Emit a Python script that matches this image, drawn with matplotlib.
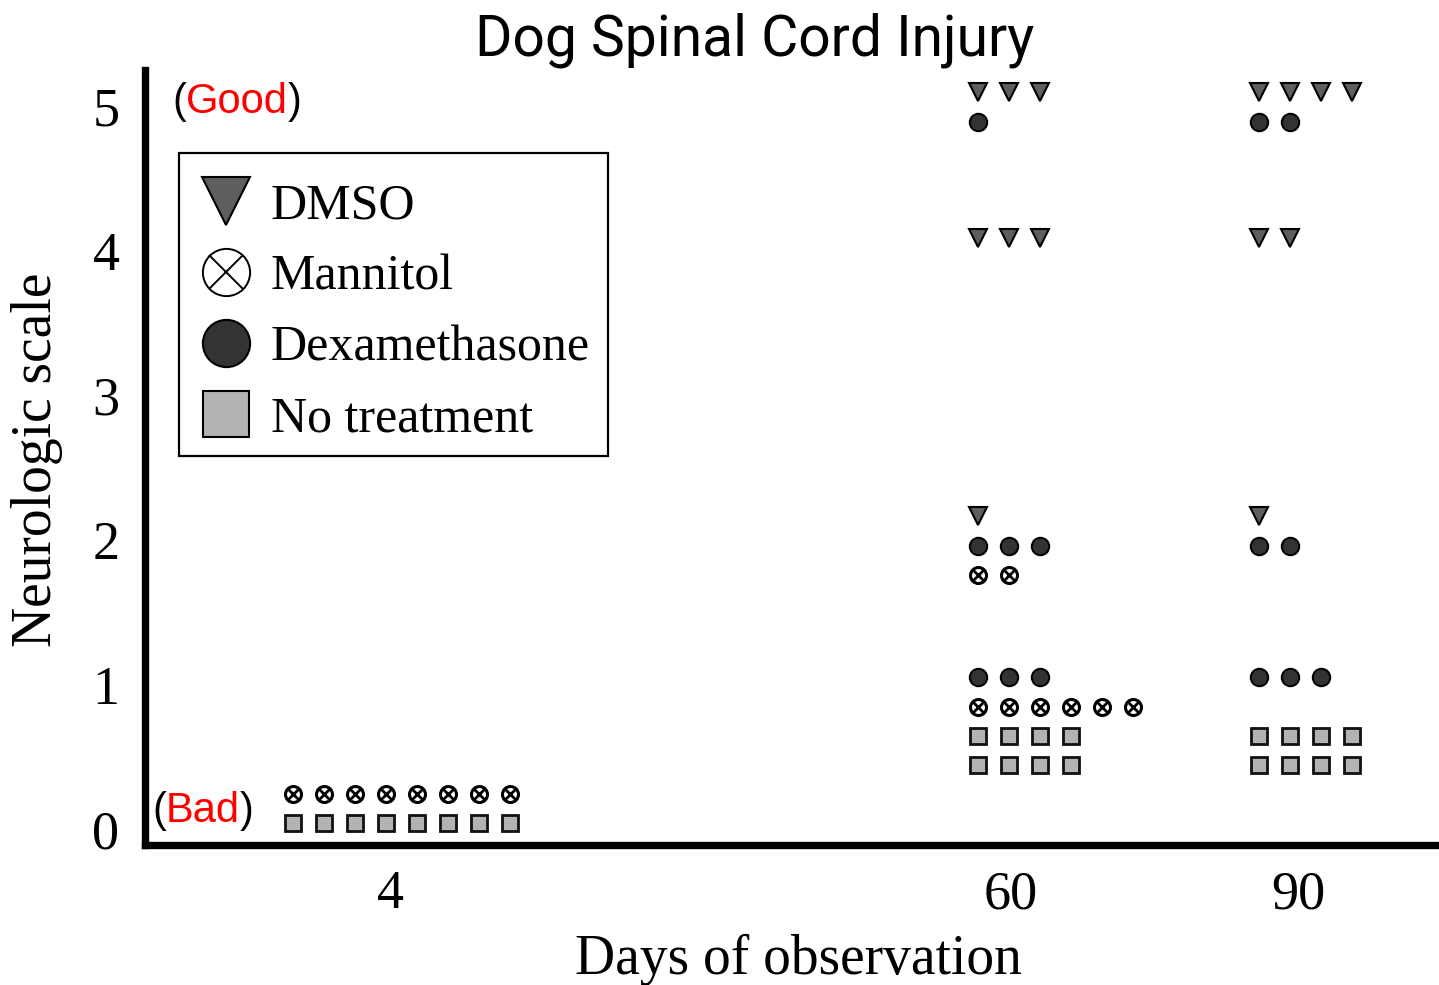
import matplotlib
matplotlib.use("Agg")
import matplotlib.pyplot as plt
from matplotlib.lines import Line2D
from matplotlib.patches import Rectangle

# ---------------- data ----------------
days = ["4", "60", "90"]
treatments = ["DMSO", "Mannitol", "Dexamethasone", "No treatment"]
y_ticks = [0, 1, 2, 3, 4, 5]

# one entry per row of symbols (each symbol = one dog)
row_day = ["4", "4",
           "60", "60", "60", "60", "60", "60", "60", "60", "60", "60",
           "90", "90", "90", "90", "90", "90", "90", "90"]
row_treatment = ["Mannitol", "No treatment",
                 "DMSO", "Dexamethasone", "DMSO", "DMSO", "Dexamethasone",
                 "Mannitol", "Dexamethasone", "Mannitol", "No treatment", "No treatment",
                 "DMSO", "Dexamethasone", "DMSO", "DMSO", "Dexamethasone",
                 "Dexamethasone", "No treatment", "No treatment"]
row_y = [0.24, 0.04,
         5.10, 4.89, 4.085, 2.165, 1.96, 1.757, 1.053, 0.846, 0.645, 0.443,
         5.10, 4.89, 4.085, 2.165, 1.96, 1.053, 0.645, 0.443]
row_count = [8, 8,
             3, 1, 3, 1, 3, 2, 3, 6, 4, 4,
             4, 2, 2, 1, 2, 3, 4, 4]

# ---------------- layout (x in "symbol slot" units) ----------------
group_start = {"4": 4.80, "60": 26.90, "90": 35.95}
tick_pos = {"4": 7.92, "60": 27.95, "90": 37.21}
slot = 1.0

styles = {
    "DMSO": dict(marker="v", ms=12.5, mfc="#5e5e5e", mec="black", mew=1.5),
    "Dexamethasone": dict(marker="o", ms=12.5, mfc="#333333", mec="black", mew=1.5),
    "No treatment": dict(marker="s", ms=11, mfc="#b3b3b3", mec="#111111", mew=2.0),
}

SERIF = "Liberation Serif"
W, H = 1439, 985

fig = plt.figure(figsize=(14.39, 9.85), dpi=100)
ax_l, ax_b, ax_w, ax_h = 144.5, 845, 1294.5, 775   # pixels (left, bottom-from-top)
ax = fig.add_axes([ax_l / W, (H - ax_b) / H, ax_w / W, ax_h / H])
ax.set_xlim(0, 41.76)
ax.set_ylim(-0.1107, 5.249)

def axfrac(px, py):
    return ((px - ax_l) / ax_w, (ax_b - py) / ax_h)

pts = {t: ([], []) for t in treatments}
for d, t, y, n in zip(row_day, row_treatment, row_y, row_count):
    for i in range(n):
        pts[t][0].append(group_start[d] + i * slot)
        pts[t][1].append(y)

for t in ["DMSO", "Dexamethasone", "No treatment"]:
    ax.plot(pts[t][0], pts[t][1], ls="none", clip_on=False, **styles[t])
# Mannitol: circle with a cross
ax.plot(pts["Mannitol"][0], pts["Mannitol"][1], ls="none", marker="o", ms=11.5,
        mfc="white", mec="black", mew=2.2, clip_on=False)
ax.plot(pts["Mannitol"][0], pts["Mannitol"][1], ls="none", marker="x", ms=7.5,
        mec="black", mew=2.0, clip_on=False)

# spines / ticks
for s in ["top", "right"]:
    ax.spines[s].set_visible(False)
for s in ["left", "bottom"]:
    ax.spines[s].set_linewidth(5.3)
    ax.spines[s].set_color("black")
ax.set_yticks(y_ticks)
ax.set_yticklabels([str(v) for v in y_ticks], fontfamily=SERIF, fontsize=39)
ax.set_xticks([tick_pos[d] for d in days])
ax.set_xticklabels(days, fontfamily=SERIF, fontsize=39)
ax.tick_params(axis="both", length=0)
ax.tick_params(axis="y", pad=18)
ax.tick_params(axis="x", pad=18)

# axis labels & title
fig.text(798.5 / W, (H - 974) / H, "Days of observation", ha="center",
         va="baseline", fontfamily=SERIF, fontsize=40)
fig.text(51 / W, (H - 460) / H, "Neurologic scale", rotation=90,
         rotation_mode="anchor", ha="center", va="baseline",
         fontfamily=SERIF, fontsize=40)
fig.text(755 / W, (H - 56) / H, "Dog Spinal Cord Injury", ha="center",
         va="baseline", fontfamily="Roboto", fontsize=41)

# (Good) / (Bad) annotations with coloured words
def chain(x_px, base_px, parts):
    prev = ax.annotate(parts[0][0], xy=(x_px / W, (H - base_px) / H),
                       xycoords="figure fraction", color=parts[0][1],
                       fontfamily="Liberation Sans", fontsize=30,
                       ha="left", va="baseline", annotation_clip=False)
    for s, c in parts[1:]:
        prev = ax.annotate(s, xy=(1, 0), xycoords=prev, color=c,
                           fontfamily="Liberation Sans", fontsize=30,
                           ha="left", va="bottom", annotation_clip=False)

chain(172, 113, [("(", "black"), ("Good", "#ff0000"), (")", "black")])
chain(152, 822, [("(", "black"), ("Bad", "#ff0000"), (")", "black")])

# legend (entries) + separate frame
h_dmso = Line2D([], [], ls="none", marker="v", ms=34, mfc="#5e5e5e", mec="black", mew=1.5)
h_man = (Line2D([], [], ls="none", marker="o", ms=34, mfc="white", mec="black", mew=1.4),
         Line2D([], [], ls="none", marker="x", ms=24, mec="black", mew=1.4))
h_dex = Line2D([], [], ls="none", marker="o", ms=34, mfc="#333333", mec="black", mew=1.5)
h_nt = Line2D([], [], ls="none", marker="s", ms=33, mfc="#b3b3b3", mec="black", mew=1.5)
leg = ax.legend([h_dmso, h_man, h_dex, h_nt], treatments,
                loc="upper left", bbox_to_anchor=axfrac(179, 163),
                borderaxespad=0, borderpad=0.4, handlelength=1.08, handletextpad=0.36,
                labelspacing=0.49, frameon=False,
                prop={"family": SERIF, "size": 36})

x0, y0 = axfrac(179, 456)
x1, y1 = axfrac(608, 153)
ax.add_patch(Rectangle((x0, y0), x1 - x0, y1 - y0, transform=ax.transAxes,
                       fill=False, edgecolor="black", linewidth=1.6, clip_on=False,
                       zorder=5))

fig.savefig("out.png", dpi=100)
